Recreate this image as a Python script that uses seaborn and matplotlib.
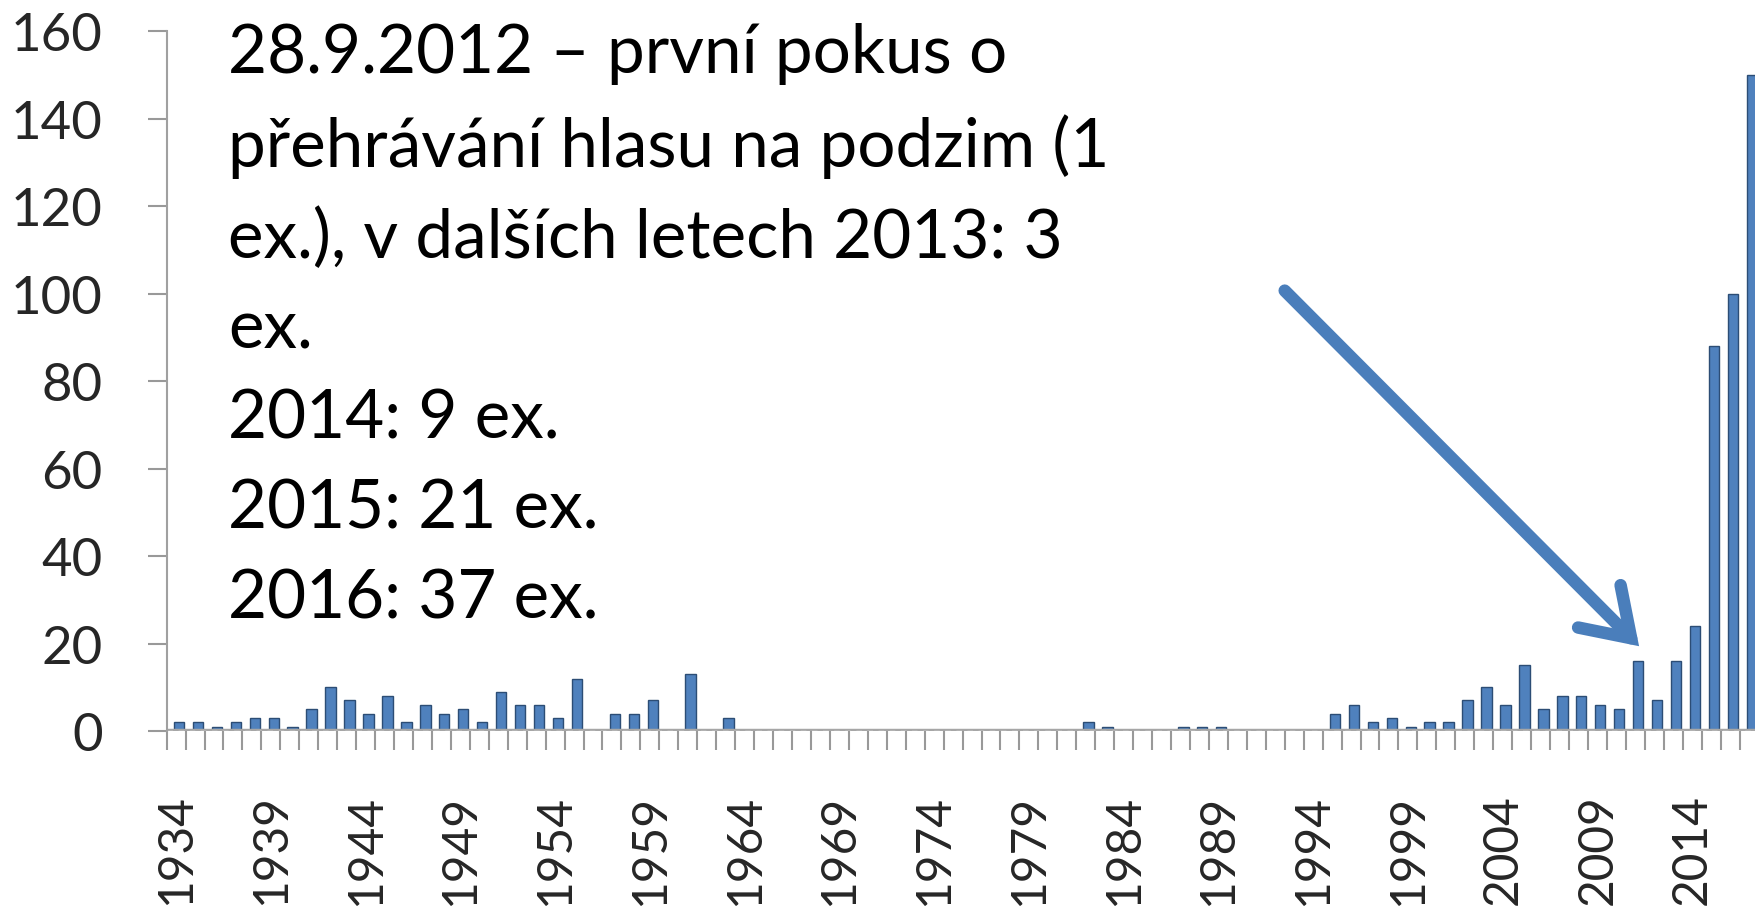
import matplotlib
matplotlib.use("Agg")
import matplotlib.pyplot as plt
import seaborn as sns
import numpy as np
import pandas as pd


years = list(range(1934, 2018))
counts = [2, 2, 1, 2, 3, 3, 1, 5, 10, 7,      # 1934-1943
          4, 8, 2, 6, 4, 5, 2, 9, 6, 6,       # 1944-1953
          3, 12, 0, 4, 4, 7, 0, 13, 0, 3,     # 1954-1963
          0, 0, 0, 0, 0, 0, 0, 0, 0, 0,       # 1964-1973
          0, 0, 0, 0, 0, 0, 0, 0, 2, 1,       # 1974-1983
          0, 0, 0, 1, 1, 1, 0, 0, 0, 0,       # 1984-1993
          0, 4, 6, 2, 3, 1, 2, 2, 7, 10,      # 1994-2003
          6, 15, 5, 8, 8, 6, 5, 16, 7, 16,    # 2004-2013
          24, 88, 100, 150]                   # 2014-2017
tick_years = years[::5]
y_ticks = [0, 20, 40, 60, 80, 100, 120, 140, 160]

note = ("28.9.2012 – první pokus o\n"
        "přehrávání hlasu na podzim (1\n"
        "ex.), v dalších letech 2013: 3\n"
        "ex.\n"
        "2014: 9 ex.\n"
        "2015: 21 ex.\n"
        "2016: 37 ex.")

df = pd.DataFrame({"year": [str(y) for y in years], "count": counts})

sns.set_theme(style="white")
plt.rcParams["font.family"] = ["Lato", "DejaVu Sans"]

fig = plt.figure(figsize=(17.56, 9.2), dpi=100)
ax = fig.add_axes([0.0949, 0.2043, 0.9065, 0.7606])

sns.barplot(data=df, x="year", y="count",
            color="#4F81BD", width=0.55,
            edgecolor="#2c4d75", linewidth=1.0,
            saturation=1, ax=ax)

# small shift to the right like the 3D bars in the original
for p in ax.patches:
    p.set_x(p.get_x() + 0.15)

ax.set_xlim(-0.5, 83.5)
ax.set_ylim(0, 160)

# floor of the 3D chart
ax.axhline(0, color="#a6a6a6", lw=3.2, zorder=1)
ax.axhline(0, color="#e6e6e6", lw=1.0, linestyle=(0, (4, 4)), zorder=1)

ax.set_xticks([years.index(y) for y in tick_years])
ax.set_xticklabels([str(y) for y in tick_years])
ax.set_xticks(np.arange(-0.5, len(years), 1), minor=True)
ax.tick_params(axis="x", which="major", length=0, pad=45,
               labelsize=34.5, labelrotation=90)
ax.tick_params(axis="x", which="minor", length=14, width=1.5,
               color="#999999", bottom=True)

ax.set_yticks(y_ticks)
ax.tick_params(axis="y", which="major", length=14, width=1.5,
               color="#999999", pad=32, labelsize=38, left=True)

ax.set_xlabel("")
ax.set_ylabel("")
for s in ["top", "right"]:
    ax.spines[s].set_visible(False)
ax.spines["left"].set_color("#a0a0a0")
ax.spines["left"].set_linewidth(1.5)
ax.spines["bottom"].set_visible(False)

ax.annotate("", xy=(77.2, 19.4), xytext=(58.5, 100.7),
            arrowprops=dict(arrowstyle="->,head_length=0.45,head_width=0.3",
                            lw=9, color="#4A7EBB", mutation_scale=72,
                            shrinkA=0, shrinkB=0,
                            capstyle="round", joinstyle="miter"))

fig.text(228 / 1756, 1 - 23 / 920, note, ha="left", va="top",
         fontsize=48.5, linespacing=1.56, color="black")

fig.savefig("out.png", dpi=100)
